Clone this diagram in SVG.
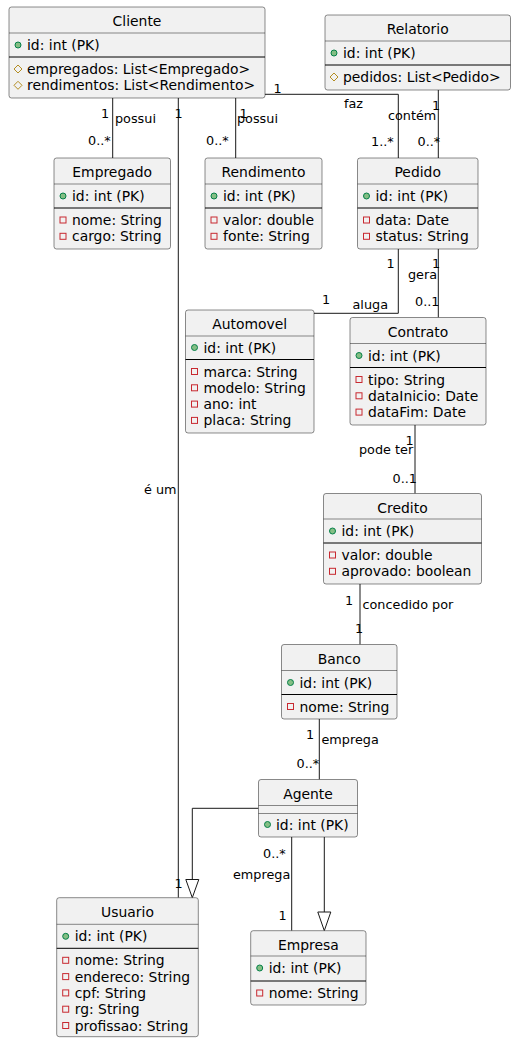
<svg xmlns="http://www.w3.org/2000/svg" width="517" height="1043" viewBox="0 0 517 1043">
<style>
.box{fill:#F1F1F1;stroke:#181818;stroke-width:0.5}
.tsep{stroke:#181818;stroke-width:0.5}
.sep{stroke:#000;stroke-width:1}
.t{font-family:"DejaVu Sans",sans-serif;font-size:13.9px;fill:#000}
.tc{font-family:"DejaVu Sans",sans-serif;font-size:13.9px;fill:#000;text-anchor:middle}
.lbl{font-family:"DejaVu Sans",sans-serif;font-size:12.8px;fill:#000}
.pub{fill:#84BE84;stroke:#038048;stroke-width:1}
.pro{fill:none;stroke:#B38D22;stroke-width:1}
.pri{fill:none;stroke:#C82930;stroke-width:1}
.ln{fill:none;stroke:#181818;stroke-width:1}
.tri{fill:#fff;stroke:#181818;stroke-width:1}
</style>
<defs>
<circle id="ipub" class="pub" cx="0" cy="0" r="3"/>
<polygon id="ipro" class="pro" points="0,-4 4,0 0,4 -4,0"/>
<rect id="ipri" class="pri" x="-3" y="-3" width="6" height="6"/>
</defs>

<g id="connectors">
<path class="ln" d="M112.7,98 V158"/>
<path class="ln" d="M178.3,98 V897.7"/>
<path class="ln" d="M235.7,98 V158"/>
<path class="ln" d="M265,94.3 H398.3 V158"/>
<path class="ln" d="M438.3,90 V158"/>
<path class="ln" d="M398.3,249 V313.3 H314"/>
<path class="ln" d="M438.3,249 V317.5"/>
<path class="ln" d="M415,425 V493.5"/>
<path class="ln" d="M360,584 V644.5"/>
<path class="ln" d="M319.3,719 V779.5"/>
<path class="ln" d="M258.5,808.3 H192.3 V879.5"/>
<polygon class="tri" points="185.8,879.5 198.8,879.5 192.3,897.7"/>
<path class="ln" d="M291.7,837 V930.7"/>
<path class="ln" d="M324.3,837 V912"/>
<polygon class="tri" points="317.8,912 330.8,912 324.3,930.7"/>

<text class="lbl" x="101" y="118">1</text>
<text class="lbl" x="115" y="123">possui</text>
<text class="lbl" x="88" y="145">0..*</text>

<text class="lbl" x="174.5" y="118">1</text>
<text class="lbl" x="144" y="494">é um</text>
<text class="lbl" x="174.5" y="888">1</text>

<text class="lbl" x="239.5" y="118">1</text>
<text class="lbl" x="237" y="123">possui</text>
<text class="lbl" x="206" y="145">0..*</text>

<text class="lbl" x="273.5" y="93">1</text>
<text class="lbl" x="344" y="108">faz</text>
<text class="lbl" x="371" y="146">1..*</text>

<text class="lbl" x="432" y="110">1</text>
<text class="lbl" x="388" y="120">contém</text>
<text class="lbl" x="417.5" y="146">0..*</text>

<text class="lbl" x="386.5" y="268">1</text>
<text class="lbl" x="322" y="304">1</text>
<text class="lbl" x="352.5" y="308.5">aluga</text>

<text class="lbl" x="432" y="268">1</text>
<text class="lbl" x="408" y="279">gera</text>
<text class="lbl" x="415" y="306">0..1</text>

<text class="lbl" x="405.5" y="445">1</text>
<text class="lbl" x="359" y="454">pode ter</text>
<text class="lbl" x="392.5" y="483">0..1</text>

<text class="lbl" x="345" y="605">1</text>
<text class="lbl" x="362.5" y="609">concedido por</text>
<text class="lbl" x="355" y="633">1</text>

<text class="lbl" x="306" y="739">1</text>
<text class="lbl" x="321.5" y="744">emprega</text>
<text class="lbl" x="296.5" y="768">0..*</text>

<text class="lbl" x="263" y="858">0..*</text>
<text class="lbl" x="233" y="879">emprega</text>
<text class="lbl" x="278.5" y="920">1</text>
</g>

<g id="Cliente">
<rect class="box" x="9" y="7" width="256" height="91" rx="2.5"/>
<text class="tc" x="137" y="26">Cliente</text>
<line class="tsep" x1="9" y1="33" x2="265" y2="33"/>
<use href="#ipub" x="18" y="45"/>
<text class="t" x="27" y="50">id: int (PK)</text>
<line class="sep" x1="9" y1="57" x2="265" y2="57"/>
<use href="#ipro" x="18" y="69"/>
<text class="t" x="27" y="74">empregados: List&lt;Empregado&gt;</text>
<use href="#ipro" x="18" y="85.3"/>
<text class="t" x="27" y="90.3">rendimentos: List&lt;Rendimento&gt;</text>
</g>

<g id="Relatorio">
<rect class="box" x="325" y="15" width="185.5" height="75" rx="2.5"/>
<text class="tc" x="417.7" y="34">Relatorio</text>
<line class="tsep" x1="325" y1="41" x2="510.5" y2="41"/>
<use href="#ipub" x="334" y="53"/>
<text class="t" x="343" y="58">id: int (PK)</text>
<line class="sep" x1="325" y1="65" x2="510.5" y2="65"/>
<use href="#ipro" x="334" y="77"/>
<text class="t" x="343" y="82">pedidos: List&lt;Pedido&gt;</text>
</g>

<g id="Empregado">
<rect class="box" x="54" y="158" width="116.5" height="91" rx="2.5"/>
<text class="tc" x="112.2" y="177">Empregado</text>
<line class="tsep" x1="54" y1="184" x2="170.5" y2="184"/>
<use href="#ipub" x="63" y="196"/>
<text class="t" x="72" y="201">id: int (PK)</text>
<line class="sep" x1="54" y1="208" x2="170.5" y2="208"/>
<use href="#ipri" x="63" y="220"/>
<text class="t" x="72" y="225">nome: String</text>
<use href="#ipri" x="63" y="236.3"/>
<text class="t" x="72" y="241.3">cargo: String</text>
</g>

<g id="Rendimento">
<rect class="box" x="205" y="158" width="117" height="91" rx="2.5"/>
<text class="tc" x="263.5" y="177">Rendimento</text>
<line class="tsep" x1="205" y1="184" x2="322" y2="184"/>
<use href="#ipub" x="214" y="196"/>
<text class="t" x="223" y="201">id: int (PK)</text>
<line class="sep" x1="205" y1="208" x2="322" y2="208"/>
<use href="#ipri" x="214" y="220"/>
<text class="t" x="223" y="225">valor: double</text>
<use href="#ipri" x="214" y="236.3"/>
<text class="t" x="223" y="241.3">fonte: String</text>
</g>

<g id="Pedido">
<rect class="box" x="357.5" y="158" width="120.5" height="91" rx="2.5"/>
<text class="tc" x="417.7" y="177">Pedido</text>
<line class="tsep" x1="357.5" y1="184" x2="478" y2="184"/>
<use href="#ipub" x="366.5" y="196"/>
<text class="t" x="375.5" y="201">id: int (PK)</text>
<line class="sep" x1="357.5" y1="208" x2="478" y2="208"/>
<use href="#ipri" x="366.5" y="220"/>
<text class="t" x="375.5" y="225">data: Date</text>
<use href="#ipri" x="366.5" y="236.3"/>
<text class="t" x="375.5" y="241.3">status: String</text>
</g>

<g id="Automovel">
<rect class="box" x="185.5" y="310" width="128.5" height="123" rx="2.5"/>
<text class="tc" x="249.7" y="329">Automovel</text>
<line class="tsep" x1="185.5" y1="336" x2="314" y2="336"/>
<use href="#ipub" x="194.5" y="347.5"/>
<text class="t" x="203.5" y="352.5">id: int (PK)</text>
<line class="sep" x1="185.5" y1="359.5" x2="314" y2="359.5"/>
<use href="#ipri" x="194.5" y="371.5"/>
<text class="t" x="203.5" y="376.5">marca: String</text>
<use href="#ipri" x="194.5" y="387.8"/>
<text class="t" x="203.5" y="392.8">modelo: String</text>
<use href="#ipri" x="194.5" y="404.1"/>
<text class="t" x="203.5" y="409.1">ano: int</text>
<use href="#ipri" x="194.5" y="420.4"/>
<text class="t" x="203.5" y="425.4">placa: String</text>
</g>

<g id="Contrato">
<rect class="box" x="350" y="317.5" width="136" height="107.5" rx="2.5"/>
<text class="tc" x="418" y="336.5">Contrato</text>
<line class="tsep" x1="350" y1="343.5" x2="486" y2="343.5"/>
<use href="#ipub" x="359" y="355.5"/>
<text class="t" x="368" y="360.5">id: int (PK)</text>
<line class="sep" x1="350" y1="367.5" x2="486" y2="367.5"/>
<use href="#ipri" x="359" y="379.5"/>
<text class="t" x="368" y="384.5">tipo: String</text>
<use href="#ipri" x="359" y="395.8"/>
<text class="t" x="368" y="400.8">dataInicio: Date</text>
<use href="#ipri" x="359" y="412.1"/>
<text class="t" x="368" y="417.1">dataFim: Date</text>
</g>

<g id="Credito">
<rect class="box" x="323.5" y="493.5" width="158" height="90.5" rx="2.5"/>
<text class="tc" x="402.5" y="512.5">Credito</text>
<line class="tsep" x1="323.5" y1="519" x2="481.5" y2="519"/>
<use href="#ipub" x="332.5" y="531"/>
<text class="t" x="341.5" y="536">id: int (PK)</text>
<line class="sep" x1="323.5" y1="543" x2="481.5" y2="543"/>
<use href="#ipri" x="332.5" y="555"/>
<text class="t" x="341.5" y="560">valor: double</text>
<use href="#ipri" x="332.5" y="571.3"/>
<text class="t" x="341.5" y="576.3">aprovado: boolean</text>
</g>

<g id="Banco">
<rect class="box" x="281.5" y="644.5" width="115.5" height="74.5" rx="2.5"/>
<text class="tc" x="339.2" y="663.5">Banco</text>
<line class="tsep" x1="281.5" y1="670.5" x2="397" y2="670.5"/>
<use href="#ipub" x="290.5" y="682.5"/>
<text class="t" x="299.5" y="687.5">id: int (PK)</text>
<line class="sep" x1="281.5" y1="694.5" x2="397" y2="694.5"/>
<use href="#ipri" x="290.5" y="706.5"/>
<text class="t" x="299.5" y="711.5">nome: String</text>
</g>

<g id="Agente">
<rect class="box" x="258.5" y="779.5" width="99" height="57.5" rx="2.5"/>
<text class="tc" x="308" y="798.5">Agente</text>
<line class="tsep" x1="258.5" y1="805.5" x2="357.5" y2="805.5"/>
<line class="tsep" x1="258.5" y1="813.5" x2="357.5" y2="813.5"/>
<use href="#ipub" x="267.5" y="824.5"/>
<text class="t" x="276" y="829.5">id: int (PK)</text>
</g>

<g id="Usuario">
<rect class="box" x="56.7" y="897.7" width="141.6" height="139" rx="2.5"/>
<text class="tc" x="127.5" y="916.5">Usuario</text>
<line class="tsep" x1="56.7" y1="924.3" x2="198.3" y2="924.3"/>
<use href="#ipub" x="65.7" y="936.3"/>
<text class="t" x="74.7" y="941.3">id: int (PK)</text>
<line class="sep" x1="56.7" y1="948.3" x2="198.3" y2="948.3"/>
<use href="#ipri" x="65.7" y="960.3"/>
<text class="t" x="74.7" y="965.3">nome: String</text>
<use href="#ipri" x="65.7" y="976.6"/>
<text class="t" x="74.7" y="981.6">endereco: String</text>
<use href="#ipri" x="65.7" y="992.9"/>
<text class="t" x="74.7" y="997.9">cpf: String</text>
<use href="#ipri" x="65.7" y="1009.2"/>
<text class="t" x="74.7" y="1014.2">rg: String</text>
<use href="#ipri" x="65.7" y="1025.5"/>
<text class="t" x="74.7" y="1030.5">profissao: String</text>
</g>

<g id="Empresa">
<rect class="box" x="250.7" y="930.7" width="115.3" height="74.3" rx="2.5"/>
<text class="tc" x="308.3" y="949.5">Empresa</text>
<line class="tsep" x1="250.7" y1="956" x2="366" y2="956"/>
<use href="#ipub" x="259.7" y="968"/>
<text class="t" x="268.7" y="973">id: int (PK)</text>
<line class="sep" x1="250.7" y1="981" x2="366" y2="981"/>
<use href="#ipri" x="259.7" y="993"/>
<text class="t" x="268.7" y="998">nome: String</text>
</g>
</svg>
